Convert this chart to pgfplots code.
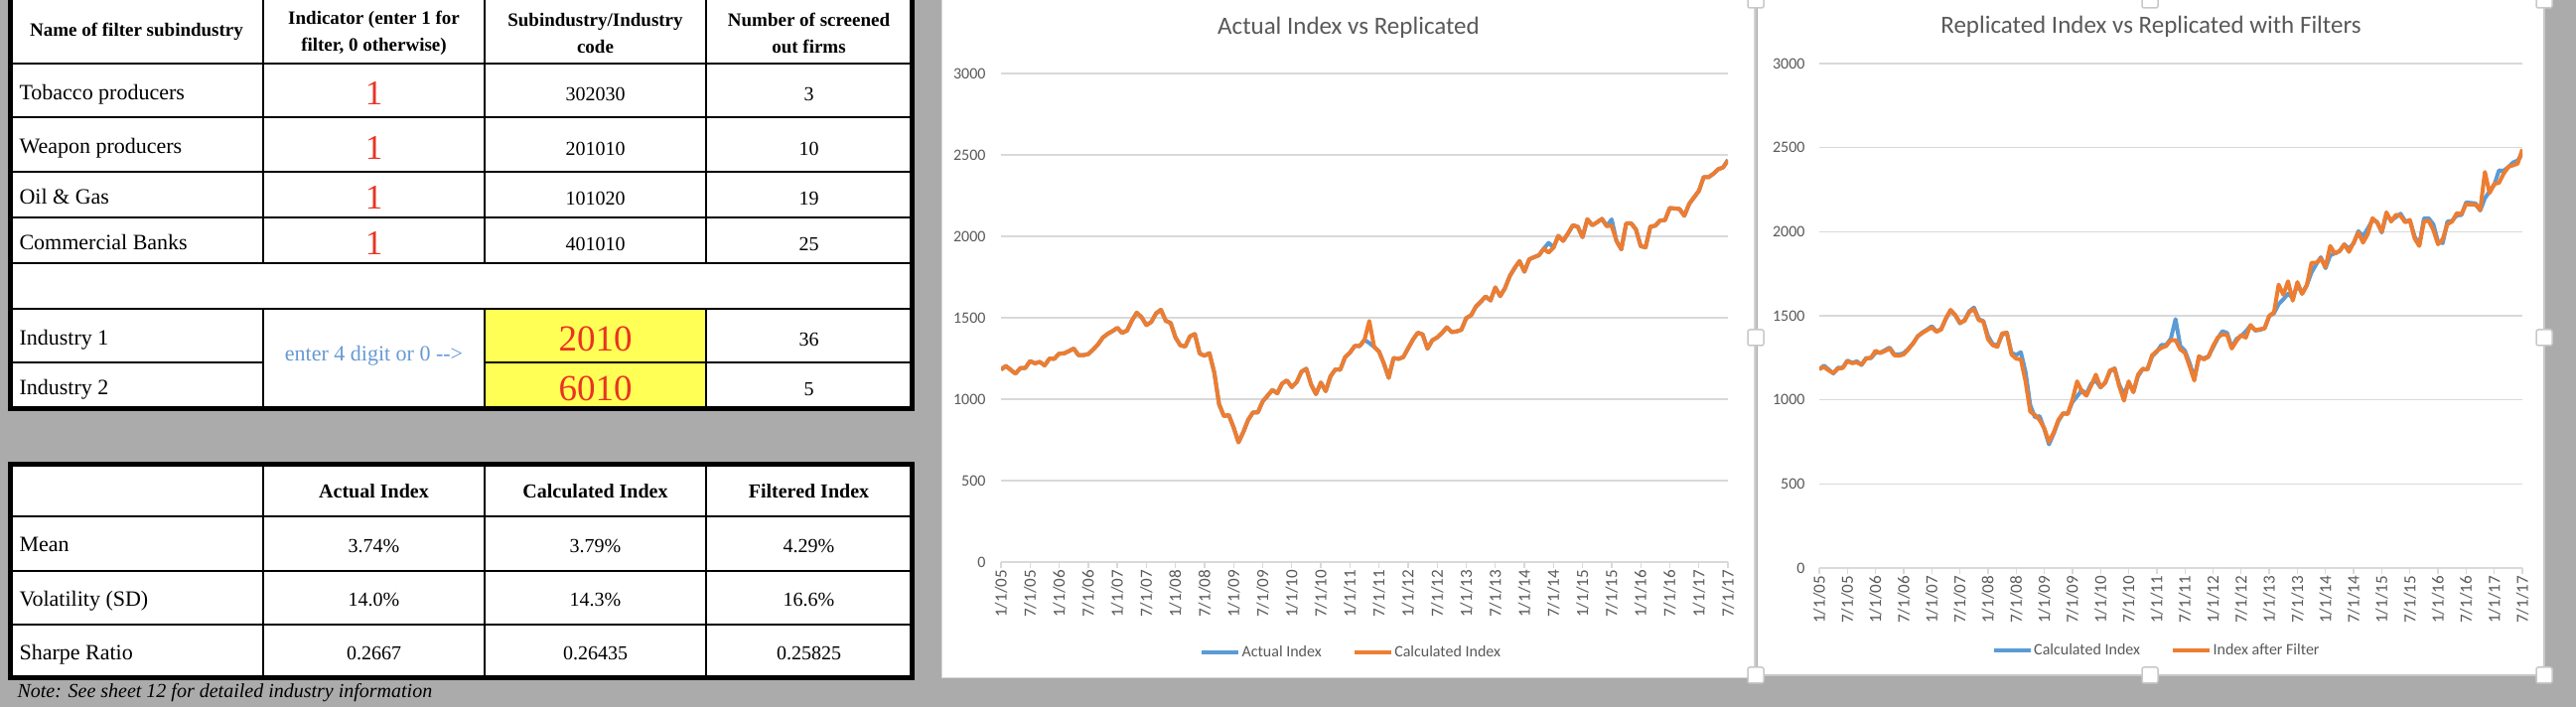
\documentclass[border=0pt]{standalone}
\usepackage{fontspec}
\setmainfont{Liberation Serif}
\newfontfamily\carlito{Carlito}
\usepackage{pgfplots}
\usepackage{pgfplotstable}
\pgfplotsset{compat=1.18}

\definecolor{bggray}{RGB}{171,171,171}
\definecolor{sblue}{RGB}{91,155,213}
\definecolor{sorange}{RGB}{237,125,49}
\definecolor{gridgray}{RGB}{217,217,217}
\definecolor{labelgray}{RGB}{89,89,89}
\definecolor{redtxt}{RGB}{234,51,35}
\definecolor{bluetxt}{RGB}{104,153,212}
\definecolor{hlyellow}{RGB}{255,255,85}
\definecolor{framegray}{RGB}{200,200,200}

% monthly values, m = months since Jan 2005
% A = actual index, C = calculated index, F = index after filter
\pgfplotstableread{
m A C F
0 1181 1181 1185
1 1204 1204 1195
2 1180 1180 1175
3 1157 1157 1160
4 1191 1191 1185
5 1191 1191 1190
6 1234 1234 1230
7 1220 1220 1218
8 1229 1229 1222
9 1207 1207 1210
10 1249 1249 1245
11 1248 1248 1250
12 1280 1280 1292
13 1281 1281 1278
14 1295 1295 1290
15 1311 1311 1305
16 1270 1270 1265
17 1270 1270 1262
18 1277 1277 1270
19 1304 1304 1300
20 1336 1336 1335
21 1378 1378 1378
22 1401 1401 1398
23 1418 1418 1415
24 1438 1438 1430
25 1407 1407 1405
26 1421 1421 1418
27 1482 1482 1485
28 1531 1531 1535
29 1503 1503 1505
30 1455 1455 1458
31 1474 1474 1470
32 1527 1527 1522
33 1549 1549 1540
34 1481 1481 1475
35 1468 1468 1465
36 1379 1379 1360
37 1331 1331 1325
38 1323 1323 1315
39 1386 1386 1395
40 1400 1400 1400
41 1280 1280 1270
42 1267 1267 1245
43 1283 1283 1240
44 1165 1165 1110
45 969 969 930
46 896 896 910
47 903 903 880
48 826 826 830
49 735 735 750
50 798 798 805
51 873 873 880
52 919 919 920
53 919 919 915
54 987 987 1000
55 1021 1021 1110
56 1057 1057 1050
57 1036 1036 1025
58 1096 1096 1085
59 1115 1115 1150
60 1074 1074 1075
61 1104 1104 1100
62 1169 1169 1175
63 1187 1187 1185
64 1089 1089 1080
65 1031 1031 995
66 1102 1102 1110
67 1049 1049 1045
68 1141 1141 1150
69 1183 1183 1185
70 1181 1181 1180
71 1258 1258 1265
72 1286 1286 1290
73 1327 1327 1310
74 1326 1326 1320
75 1364 1364 1355
76 1345 1480 1355
77 1321 1321 1300
78 1292 1292 1280
79 1219 1219 1200
80 1131 1131 1115
81 1253 1253 1260
82 1247 1247 1240
83 1258 1258 1255
84 1312 1312 1320
85 1366 1366 1370
86 1408 1408 1390
87 1398 1398 1385
88 1310 1310 1305
89 1362 1362 1350
90 1379 1379 1385
91 1407 1407 1370
92 1441 1441 1445
93 1412 1412 1415
94 1416 1416 1420
95 1426 1426 1425
96 1498 1498 1500
97 1515 1515 1520
98 1569 1569 1685
99 1598 1598 1625
100 1631 1631 1705
101 1606 1606 1590
102 1686 1686 1700
103 1633 1633 1630
104 1682 1682 1680
105 1757 1757 1815
106 1806 1806 1815
107 1848 1848 1840
108 1783 1783 1790
109 1859 1859 1915
110 1872 1872 1870
111 1884 1884 1885
112 1924 1924 1925
113 1960 1900 1880
114 1931 1931 1935
115 2003 2003 1995
116 1972 1972 1935
117 2018 2018 1985
118 2068 2068 2080
119 2059 2059 2055
120 1995 1995 2000
121 2105 2105 2115
122 2068 2068 2060
123 2086 2086 2100
124 2107 2107 2095
125 2063 2063 2055
126 2104 2065 2070
127 1972 1972 1960
128 1920 1920 1915
129 2079 2079 2060
130 2080 2080 2065
131 2044 2044 2010
132 1940 1940 1925
133 1932 1932 1955
134 2060 2060 2045
135 2065 2065 2060
136 2097 2097 2110
137 2099 2099 2105
138 2174 2174 2165
139 2171 2171 2160
140 2168 2168 2160
141 2126 2126 2130
142 2199 2199 2355
143 2239 2239 2230
144 2279 2279 2285
145 2364 2364 2290
146 2363 2363 2345
147 2384 2384 2385
148 2412 2412 2395
149 2423 2423 2405
150 2470 2465 2490
}\indexdata

\newcommand\hd{\bfseries\fontsize{19}{27}\selectfont}
\newcommand\bd{\fontsize{22}{26}\selectfont}
\newcommand\nm{\fontsize{20}{24}\selectfont}

\pgfplotsset{
  excelchart/.style={
    scale only axis,
    xmin=0, xmax=150, ymin=0, ymax=3000,
    xtick={0,6,...,150},
    xticklabels={1/1/05,7/1/05,1/1/06,7/1/06,1/1/07,7/1/07,1/1/08,7/1/08,1/1/09,7/1/09,1/1/10,7/1/10,1/1/11,7/1/11,1/1/12,7/1/12,1/1/13,7/1/13,1/1/14,7/1/14,1/1/15,7/1/15,1/1/16,7/1/16,1/1/17,7/1/17},
    ytick={0,500,...,3000},
    axis line style={draw=none},
    ymajorgrids,
    grid style={gridgray, line width=1.3pt},
    tick align=outside,
    xtick pos=left,
    major tick length=6pt,
    xtick style={gridgray, line width=1.3pt},
    ytick style={draw=none},
    /pgf/number format/assume math mode=true,
    /pgf/number format/1000 sep={},
    yticklabel style={font=\carlito\fontsize{16}{16}\selectfont, text=labelgray},
    xticklabel style={font=\carlito\fontsize{17}{17}\selectfont, text=labelgray,
      rotate=90, anchor=east, inner sep=2pt},
    legend columns=2,
    legend style={draw=none, fill=none, anchor=center,
      font=\carlito\fontsize{16}{16}\selectfont,
      nodes={text=labelgray, inner sep=1pt},
      /tikz/every even column/.append style={column sep=30pt}},
    legend image code/.code={\draw[#1, line width=4.5pt] (0pt,0pt) -- (37pt,0pt);},
    every axis plot/.append style={no marks, line width=4pt, line join=round},
  }
}

\begin{document}
\begin{tikzpicture}[x=1pt,y=1pt]
\path[use as bounding box] (0,0) rectangle (2594,712);
\fill[bggray] (0,0) rectangle (2594,712);

% ---------- top table ----------
\fill[white] (10,300) rectangle (918,712);
\fill[hlyellow] (488,300) rectangle (711,401);
\begin{scope}[line width=2.5pt]
  \foreach \yy in {648,594,539,493,447,401} \draw (10,\yy) -- (918,\yy);
  \draw (10,347) -- (265,347);
  \draw (488,347) -- (918,347);
  \foreach \xx in {265,488,711} {
    \draw (\xx,447) -- (\xx,712);
    \draw (\xx,300) -- (\xx,401);
  }
\end{scope}
\draw[line width=5pt] (10,712) -- (10,300) -- (918,300) -- (918,712);

\node[font=\hd] at (137.5,680) {Name of filter subindustry};
\node[font=\hd, align=center] at (376.5,678.5) {Indicator (enter 1 for\\filter, 0 otherwise)};
\node[font=\hd, align=center] at (599.5,678.5) {Subindustry/Industry\\code};
\node[font=\hd, align=center] at (814.5,678.5) {Number of screened\\out firms};

\foreach \yy/\name/\code/\num in {621/Tobacco producers/302030/3, 566.5/Weapon producers/201010/10, 516/Oil \& Gas/101020/19, 470/Commercial Banks/401010/25} {
  \node[font=\bd, anchor=mid west] at (16,\yy-7) {\name};
  \node[font=\fontsize{35}{35}\selectfont, text=redtxt, anchor=center] at (376.5,\yy-3) {1};
  \node[font=\nm, anchor=center] at (599.5,\yy-4) {\code};
  \node[font=\nm, anchor=center] at (814.5,\yy-4) {\num};
}
\node[font=\bd, anchor=mid west] at (16,367) {Industry 1};
\node[font=\bd, anchor=mid west] at (16,317) {Industry 2};
\node[font=\fontsize{22}{22}\selectfont, text=bluetxt, anchor=mid] at (376.5,351) {enter 4 digit or 0 -{}-{}>};
\node[font=\fontsize{37}{37}\selectfont, text=redtxt, anchor=center] at (599.5,371) {2010};
\node[font=\fontsize{37}{37}\selectfont, text=redtxt, anchor=center] at (599.5,320.5) {6010};
\node[font=\nm, anchor=center] at (814.5,370) {36};
\node[font=\nm, anchor=center] at (814.5,319.5) {5};

% ---------- bottom table ----------
\fill[white] (10,29) rectangle (918,244);
\begin{scope}[line width=2.5pt]
  \foreach \yy in {192,137,83} \draw (10,\yy) -- (918,\yy);
  \foreach \xx in {265,488,711} \draw (\xx,29) -- (\xx,244);
\end{scope}
\draw[line width=5pt] (10,29) rectangle (918,244);
\node[font=\bfseries\fontsize{20}{24}\selectfont, anchor=mid] at (376.5,213) {Actual Index};
\node[font=\bfseries\fontsize{20}{24}\selectfont, anchor=mid] at (599.5,213) {Calculated Index};
\node[font=\bfseries\fontsize{20}{24}\selectfont, anchor=mid] at (814.5,213) {Filtered Index};
\foreach \yy/\name/\a/\b/\c in {164.5/Mean/3.74\%/3.79\%/4.29\%, 110/Volatility (SD)/14.0\%/14.3\%/16.6\%, 56/Sharpe Ratio/0.2667/0.26435/0.25825} {
  \node[font=\bd, anchor=mid west] at (16,\yy-6) {\name};
  \node[font=\nm, anchor=center] at (376.5,\yy-2) {\a};
  \node[font=\nm, anchor=center] at (599.5,\yy-2) {\b};
  \node[font=\nm, anchor=center] at (814.5,\yy-2) {\c};
}
\node[font=\itshape\fontsize{20}{24}\selectfont, anchor=mid west] at (14,12) {Note: See sheet 12 for detailed industry information};

% ---------- chart panels ----------
\fill[white] (948,29) rectangle (1766,712);
\draw[gridgray, line width=1pt] (948,29) rectangle (1766,713);
\fill[white] (1770,32) rectangle (2562,712);
\draw[framegray, line width=2.5pt] (1768,714) -- (1768,32) -- (2562,32) -- (2562,714);

\node[font=\carlito\fontsize{25}{25}\selectfont, text=labelgray] at (1358,684) {Actual Index vs Replicated};
\node[font=\carlito\fontsize{25}{25}\selectfont, text=labelgray] at (2166,685) {Replicated Index vs Replicated with Filters};

\begin{axis}[excelchart, at={(1008pt,146pt)}, anchor=south west,
  width=732pt, height=492pt,
  yticklabel style={xshift=-6pt},
  legend style={at={(0.481,-0.185)}}]
\addplot[sblue] table[x=m, y=A] {\indexdata};
\addplot[sorange] table[x=m, y=C] {\indexdata};
\legend{Actual Index, Calculated Index}
\end{axis}

\begin{axis}[excelchart, at={(1832pt,140pt)}, anchor=south west,
  width=708pt, height=508pt,
  yticklabel style={xshift=-5pt},
  legend style={at={(0.479,-0.163)}}]
\addplot[sblue] table[x=m, y=C] {\indexdata};
\addplot[sorange] table[x=m, y=F] {\indexdata};
\legend{Calculated Index, Index after Filter}
\end{axis}

\foreach \hx/\hy in {1768/712, 2165/712, 2562/712, 1768/372, 2562/372, 1768/32, 2165/32, 2562/32}
  \draw[framegray, fill=white, line width=1.5pt, rounded corners=2pt] (\hx-8,\hy-8) rectangle (\hx+8,\hy+8);
\end{tikzpicture}
\end{document}
